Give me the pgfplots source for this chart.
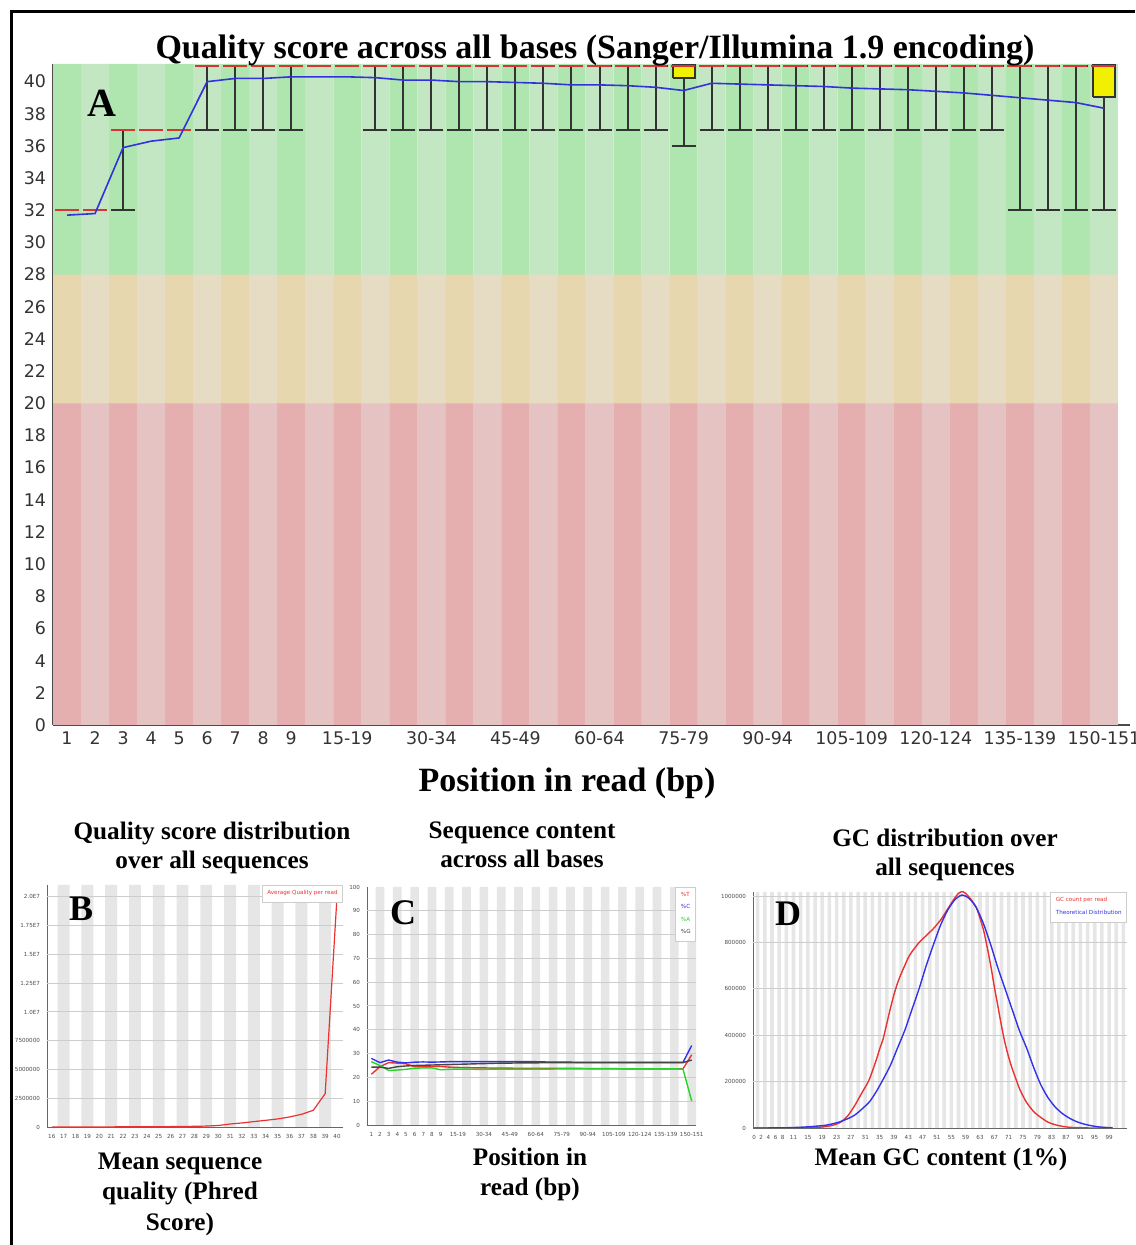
\documentclass[border=0pt]{standalone}
\usepackage{pgfplots}
\pgfplotsset{compat=1.18}
\usepackage{fontspec}
\setmainfont{Liberation Serif}
\newfontfamily\dv{DejaVu Sans}
\definecolor{gdk}{RGB}{175,230,175}
\definecolor{glt}{RGB}{195,230,195}
\definecolor{odk}{RGB}{230,215,175}
\definecolor{olt}{RGB}{230,220,195}
\definecolor{rdk}{RGB}{230,175,175}
\definecolor{rlt}{RGB}{230,195,195}
\definecolor{stripe}{RGB}{230,230,230}
\definecolor{gridc}{RGB}{205,205,205}
\definecolor{medred}{RGB}{220,50,50}
\definecolor{meanblue}{RGB}{50,50,220}
\definecolor{boxyel}{RGB}{240,240,0}
\definecolor{fqred}{RGB}{235,50,50}
\definecolor{fqblue}{RGB}{50,50,235}
\definecolor{fqgreen}{RGB}{40,210,40}
\definecolor{fqgray}{RGB}{70,70,70}
\newcommand{\bigT}{\bfseries\fontsize{17}{20}\selectfont}
\newcommand{\subT}{\bfseries\fontsize{12.6}{15}\selectfont}
\newcommand{\tinyT}{\dv\fontsize{2.8}{3.4}\selectfont}
\pgfplotsset{
  stripe/.style={ybar, bar width=1, bar shift=0, draw=none, forget plot},
  gridl/.style={gridc, line width=0.5pt, forget plot, unbounded coords=jump},
  small panel/.style={
    scale only axis,
    axis x line*=bottom, axis y line*=left,
    axis line style={black!60, line width=0.4pt},
    major tick length=0pt,
    tick label style={font=\tinyT, text=black!70},
    /pgf/number format/assume math mode=true,
    scaled y ticks=false,
    legend image code/.code={\path[draw=none,fill=none] (0pt,0pt) -- (0.1pt,0pt);},
    legend style={at={(1,1)}, anchor=north east, font=\tinyT, draw=gridc,
      inner sep=0.5pt, row sep=-1.4pt, fill=white},
    legend cell align=left,
  },
}
\begin{document}
\begin{tikzpicture}
\path[use as bounding box] (0,0) rectangle (567.5pt,622.5pt);
\draw[line width=1.5pt] (5.5pt,0) -- (5.5pt,616.5pt) -- (567.5pt,616.5pt);

% ---------------- Panel A ----------------
\begin{axis}[
  at={(26.5pt,260pt)}, anchor=south west,
  scale only axis, width=538.5pt, height=330.5pt,
  xmin=-0.5, xmax=37.93, ymin=0, ymax=41.1,
  axis x line*=bottom, axis y line*=left,
  axis line style={black!70, line width=0.8pt},
  major tick length=0pt,
  ytick={0,2,...,40},
  xtick={0,1,2,3,4,5,6,7,8,10,13,16,19,22,25,28,31,34,37},
  xticklabels={1,2,3,4,5,6,7,8,9,15-19,30-34,45-49,60-64,75-79,90-94,105-109,120-124,135-139,150-151},
  tick label style={font=\dv\fontsize{8.7}{10}\selectfont, text=black!80},
  /pgf/number format/assume math mode=true,
]
\addplot[stripe, fill=gdk] coordinates {(0,41.1)(2,41.1)(4,41.1)(6,41.1)(8,41.1)(10,41.1)(12,41.1)(14,41.1)(16,41.1)(18,41.1)(20,41.1)(22,41.1)(24,41.1)(26,41.1)(28,41.1)(30,41.1)(32,41.1)(34,41.1)(36,41.1)};
\addplot[stripe, fill=glt] coordinates {(1,41.1)(3,41.1)(5,41.1)(7,41.1)(9,41.1)(11,41.1)(13,41.1)(15,41.1)(17,41.1)(19,41.1)(21,41.1)(23,41.1)(25,41.1)(27,41.1)(29,41.1)(31,41.1)(33,41.1)(35,41.1)(37,41.1)};
\addplot[stripe, fill=odk] coordinates {(0,28)(2,28)(4,28)(6,28)(8,28)(10,28)(12,28)(14,28)(16,28)(18,28)(20,28)(22,28)(24,28)(26,28)(28,28)(30,28)(32,28)(34,28)(36,28)};
\addplot[stripe, fill=olt] coordinates {(1,28)(3,28)(5,28)(7,28)(9,28)(11,28)(13,28)(15,28)(17,28)(19,28)(21,28)(23,28)(25,28)(27,28)(29,28)(31,28)(33,28)(35,28)(37,28)};
\addplot[stripe, fill=rdk] coordinates {(0,20)(2,20)(4,20)(6,20)(8,20)(10,20)(12,20)(14,20)(16,20)(18,20)(20,20)(22,20)(24,20)(26,20)(28,20)(30,20)(32,20)(34,20)(36,20)};
\addplot[stripe, fill=rlt] coordinates {(1,20)(3,20)(5,20)(7,20)(9,20)(11,20)(13,20)(15,20)(17,20)(19,20)(21,20)(23,20)(25,20)(27,20)(29,20)(31,20)(33,20)(35,20)(37,20)};
% whiskers
\addplot[draw=none, mark=none,
  error bars/.cd, y dir=both, y explicit,
  error bar style={draw=black!80, line width=1pt},
  error mark options={draw=black!80, line width=1pt, mark size=6pt, rotate=90}]
  table[x=x, y=y, y error=e] {
x y e
2 34.5 2.5
5 39 2
6 39 2
7 39 2
8 39 2
11 39 2
12 39 2
13 39 2
14 39 2
15 39 2
16 39 2
17 39 2
18 39 2
19 39 2
20 39 2
21 39 2
22 38.5 2.5
23 39 2
24 39 2
25 39 2
26 39 2
27 39 2
28 39 2
29 39 2
30 39 2
31 39 2
32 39 2
33 39 2
34 36.5 4.5
35 36.5 4.5
36 36.5 4.5
37 36.5 4.5
};
% boxes
\addplot[fill=boxyel, draw=black!80, line width=0.8pt] coordinates {(21.62,40.22)(22.4,40.22)(22.4,41.05)(21.62,41.05)(21.62,40.22)};
\addplot[fill=boxyel, draw=black!80, line width=0.8pt] coordinates {(36.6,39.05)(37.4,39.05)(37.4,41.05)(36.6,41.05)(36.6,39.05)};
% medians
\addplot[medred, line width=1pt, dash pattern=on 12pt off 2pt, dash phase=13pt] coordinates {(-0.5,32)(1.5,32)};
\addplot[medred, line width=1pt, dash pattern=on 12pt off 2pt, dash phase=13pt] coordinates {(1.5,37)(4.5,37)};
\addplot[medred, line width=1pt, dash pattern=on 12pt off 2pt, dash phase=13pt] coordinates {(4.5,41)(37.5,41)};
% mean
\addplot[meanblue, line width=0.8pt] coordinates {
(0,31.7)(1,31.8)(2,35.9)(3,36.3)(4,36.5)(5,40.0)(6,40.2)(7,40.2)(8,40.3)(9,40.3)
(10,40.3)(11,40.25)(12,40.1)(13,40.1)(14,40.0)(15,40.0)(16,39.95)(17,39.9)(18,39.8)(19,39.8)
(20,39.75)(21,39.65)(22,39.45)(23,39.9)(24,39.85)(25,39.8)(26,39.75)(27,39.7)(28,39.6)(29,39.55)
(30,39.5)(31,39.4)(32,39.3)(33,39.15)(34,39.0)(35,38.85)(36,38.7)(37,38.35)};
\end{axis}
\node[anchor=base, font=\bigT] at (297.5pt,593pt) {Quality score across all bases (Sanger/Illumina 1.9 encoding)};
\node[anchor=base west, font=\bfseries\fontsize{20}{24}\selectfont] at (40pt,564pt) {A};
\node[anchor=base, font=\bigT] at (283.5pt,226.5pt) {Position in read (bp)};

% ---------------- Panel B (counts in millions) ----------------
\begin{axis}[small panel,
  at={(23.5pt,59pt)}, anchor=south west, width=148pt, height=121pt,
  xmin=15.6, xmax=40.5, ymin=0, ymax=21.04,
  ytick={0,2.5,5,7.5,10,12.5,15,17.5,20},
  yticklabels={0,2500000,5000000,7500000,1.0E7,1.25E7,1.5E7,1.75E7,2.0E7},
  xtick={16,17,...,40},
]
\addplot[stripe, fill=stripe] coordinates {(17,21.04)(19,21.04)(21,21.04)(23,21.04)(25,21.04)(27,21.04)(29,21.04)(31,21.04)(33,21.04)(35,21.04)(37,21.04)(39,21.04)};
\addplot[gridl] coordinates {(15.6,2.5)(40.5,2.5)(40.5,nan)(15.6,5)(40.5,5)(40.5,nan)(15.6,7.5)(40.5,7.5)(40.5,nan)(15.6,10)(40.5,10)(40.5,nan)(15.6,12.5)(40.5,12.5)(40.5,nan)(15.6,15)(40.5,15)(40.5,nan)(15.6,17.5)(40.5,17.5)(40.5,nan)(15.6,20)(40.5,20)};
\addplot[fqred, line width=0.6pt] coordinates {
(16,0.005)(17,0.005)(18,0.006)(19,0.008)(20,0.010)(21,0.012)(22,0.015)(23,0.018)(24,0.022)(25,0.028)
(26,0.035)(27,0.045)(28,0.060)(29,0.080)(30,0.130)(31,0.260)(32,0.350)(33,0.470)(34,0.580)
(35,0.700)(36,0.870)(37,1.100)(38,1.450)(39,2.900)(40,20.10)};
\addlegendentry{\textcolor{fqred}{Average Quality per read}}
\end{axis}

% ---------------- Panel C ----------------
\begin{axis}[small panel,
  at={(183.5pt,60pt)}, anchor=south west, width=164.5pt, height=119pt,
  xmin=-0.5, xmax=37.5, ymin=0, ymax=100,
  ytick={0,10,...,100},
  xtick={0,1,2,3,4,5,6,7,8,10,13,16,19,22,25,28,31,34,37},
  xticklabels={1,2,3,4,5,6,7,8,9,15-19,30-34,45-49,60-64,75-79,90-94,105-109,120-124,135-139,150-151},
]
\addplot[stripe, fill=stripe] coordinates {(1,100)(3,100)(5,100)(7,100)(9,100)(11,100)(13,100)(15,100)(17,100)(19,100)(21,100)(23,100)(25,100)(27,100)(29,100)(31,100)(33,100)(35,100)(37,100)};
\addplot[gridl] coordinates {(-0.5,10)(37.5,10)(37.5,nan)(-0.5,20)(37.5,20)(37.5,nan)(-0.5,30)(37.5,30)(37.5,nan)(-0.5,40)(37.5,40)(37.5,nan)(-0.5,50)(37.5,50)(37.5,nan)(-0.5,60)(37.5,60)(37.5,nan)(-0.5,70)(37.5,70)(37.5,nan)(-0.5,80)(37.5,80)(37.5,nan)(-0.5,90)(37.5,90)};
\addplot[fqred, line width=0.7pt] coordinates {
(0,21.3)(1,24.5)(2,26.2)(3,26.0)(4,25.7)(5,24.5)(6,24.5)(7,24.6)(8,24.6)(9,24.3)
(10,24.2)(11,24.1)(12,24.0)(13,24.0)(14,23.9)(15,23.9)(16,23.9)(17,23.8)(18,23.8)(19,23.8)
(20,23.8)(21,23.8)(22,23.8)(23,23.8)(24,23.8)(25,23.7)(26,23.7)(27,23.7)(28,23.7)(29,23.6)
(30,23.6)(31,23.6)(32,23.6)(33,23.6)(34,23.6)(35,23.6)(36,23.6)(37,29.5)};
\addlegendentry{\textcolor{fqred}{\%T}}
\addplot[fqblue, line width=0.7pt] coordinates {
(0,28.0)(1,26.2)(2,27.3)(3,26.4)(4,26.1)(5,26.4)(6,26.5)(7,26.4)(8,26.5)(9,26.6)
(10,26.6)(11,26.6)(12,26.6)(13,26.6)(14,26.6)(15,26.6)(16,26.6)(17,26.6)(18,26.6)(19,26.6)
(20,26.5)(21,26.4)(22,26.4)(23,26.4)(24,26.3)(25,26.3)(26,26.3)(27,26.3)(28,26.3)(29,26.3)
(30,26.3)(31,26.3)(32,26.3)(33,26.3)(34,26.3)(35,26.3)(36,26.3)(37,33.4)};
\addlegendentry{\textcolor{fqblue}{\%C}}
\addplot[fqgreen, line width=0.7pt] coordinates {
(0,26.6)(1,25.0)(2,22.9)(3,23.1)(4,23.4)(5,23.8)(6,24.0)(7,24.0)(8,23.2)(9,23.4)
(10,23.5)(11,23.5)(12,23.4)(13,23.4)(14,23.5)(15,23.5)(16,23.5)(17,23.5)(18,23.5)(19,23.5)
(20,23.5)(21,23.5)(22,23.6)(23,23.6)(24,23.6)(25,23.6)(26,23.6)(27,23.6)(28,23.6)(29,23.6)
(30,23.6)(31,23.6)(32,23.6)(33,23.6)(34,23.6)(35,23.6)(36,23.5)(37,10.1)};
\addlegendentry{\textcolor{fqgreen}{\%A}}
\addplot[fqgray, line width=0.7pt] coordinates {
(0,24.3)(1,24.3)(2,23.8)(3,24.5)(4,24.8)(5,25.0)(6,25.1)(7,25.2)(8,25.3)(9,25.4)
(10,25.5)(11,25.6)(12,25.7)(13,25.8)(14,25.9)(15,26.0)(16,26.0)(17,26.1)(18,26.1)(19,26.1)
(20,26.2)(21,26.2)(22,26.2)(23,26.2)(24,26.2)(25,26.2)(26,26.2)(27,26.2)(28,26.2)(29,26.2)
(30,26.2)(31,26.2)(32,26.2)(33,26.2)(34,26.2)(35,26.2)(36,26.2)(37,27.3)};
\addlegendentry{\textcolor{fqgray}{\%G}}
\end{axis}

% ---------------- Panel D (counts in thousands) ----------------
\begin{axis}[small panel,
  at={(376.5pt,58.5pt)}, anchor=south west, width=187pt, height=118pt,
  xmin=-0.3, xmax=104, ymin=0, ymax=1018,
  ytick={0,200,400,600,800,1000},
  yticklabels={0,200000,400000,600000,800000,1000000},
  xtick={0,2,4,6,8,11,15,19,23,27,31,35,39,43,47,51,55,59,63,67,71,75,79,83,87,91,95,99},
]
\addplot[stripe, fill=stripe] coordinates {(1,1018)(3,1018)(5,1018)(7,1018)(9,1018)(11,1018)(13,1018)(15,1018)(17,1018)(19,1018)(21,1018)(23,1018)(25,1018)(27,1018)(29,1018)(31,1018)(33,1018)(35,1018)(37,1018)(39,1018)(41,1018)(43,1018)(45,1018)(47,1018)(49,1018)(51,1018)(53,1018)(55,1018)(57,1018)(59,1018)(61,1018)(63,1018)(65,1018)(67,1018)(69,1018)(71,1018)(73,1018)(75,1018)(77,1018)(79,1018)(81,1018)(83,1018)(85,1018)(87,1018)(89,1018)(91,1018)(93,1018)(95,1018)(97,1018)(99,1018)(101,1018)(103,1018)};
\addplot[gridl] coordinates {(-0.3,200)(104,200)(104,nan)(-0.3,400)(104,400)(104,nan)(-0.3,600)(104,600)(104,nan)(-0.3,800)(104,800)(104,nan)(-0.3,1000)(104,1000)};
\addplot[fqred, line width=0.7pt, smooth, tension=0.4] coordinates {
(0,0)(10,0)(15,1)(18,3)(20,6)(22,12)(24,24)(26,50)(28,95)(30,150)
(32,205)(34,290)(35,340)(36,385)(37,450)(38,515)(39,575)(40,625)
(41,665)(42,700)(43,735)(44,760)(45,780)(46,800)(47,815)(48,830)
(50,860)(52,897)(54,945)(56,993)(57,1012)(58,1020)(59,1012)(60,995)
(61,975)(62,950)(63,905)(64,853)(65,780)(66,700)(67,609)(68,525)
(69,440)(70,365)(71,305)(72,255)(73,212)(74,170)(75,138)(76,110)
(78,70)(80,45)(82,25)(84,14)(86,7)(88,3)(90,1.5)(94,0)(100,0)};
\addlegendentry{\textcolor{fqred}{GC count per read}}
\addplot[fqblue, line width=0.7pt, smooth, tension=0.4] coordinates {
(0,0)(5,0.3)(10,1.5)(15,5)(20,12)(24,27)(28,55)(32,110)(34,155)(36,210)
(38,270)(40,345)(42,420)(44,510)(46,600)(48,700)(50,790)(52,875)
(54,940)(56,985)(58,1005)(60,990)(62,950)(64,880)(66,790)(68,690)
(70,600)(72,510)(74,420)(76,345)(78,260)(80,185)(82,130)(84,90)
(86,62)(88,42)(90,27)(92,17)(94,10)(96,5)(98,2.5)(100,1)};
\addlegendentry{\textcolor{fqblue}{Theoretical Distribution}}
\end{axis}

% panel letters
\node[anchor=base west, font=\bfseries\fontsize{18}{22}\selectfont] at (31pt,162pt) {B};
\node[anchor=base west, font=\bfseries\fontsize{18}{22}\selectfont] at (191.5pt,160pt) {C};
\node[anchor=base west, font=\bfseries\fontsize{18}{22}\selectfont] at (384pt,159.5pt) {D};
% sub titles
\node[anchor=base, font=\subT] at (106pt,202.5pt) {Quality score distribution};
\node[anchor=base, font=\subT] at (106pt,188pt) {over all sequences};
\node[anchor=base, font=\subT] at (261pt,203pt) {Sequence content};
\node[anchor=base, font=\subT] at (261pt,188.5pt) {across all bases};
\node[anchor=base, font=\subT] at (472.5pt,199pt) {GC distribution over};
\node[anchor=base, font=\subT] at (472.5pt,184.5pt) {all sequences};
% sub x labels
\node[anchor=base, font=\subT] at (90pt,37.5pt) {Mean sequence};
\node[anchor=base, font=\subT] at (90pt,22.5pt) {quality (Phred};
\node[anchor=base, font=\subT] at (90pt,7pt) {Score)};
\node[anchor=base, font=\subT] at (265pt,39.5pt) {Position in};
\node[anchor=base, font=\subT] at (265pt,24.5pt) {read (bp)};
\node[anchor=base, font=\subT] at (470.5pt,39.5pt) {Mean GC content (1\%)};
\end{tikzpicture}
\end{document}
